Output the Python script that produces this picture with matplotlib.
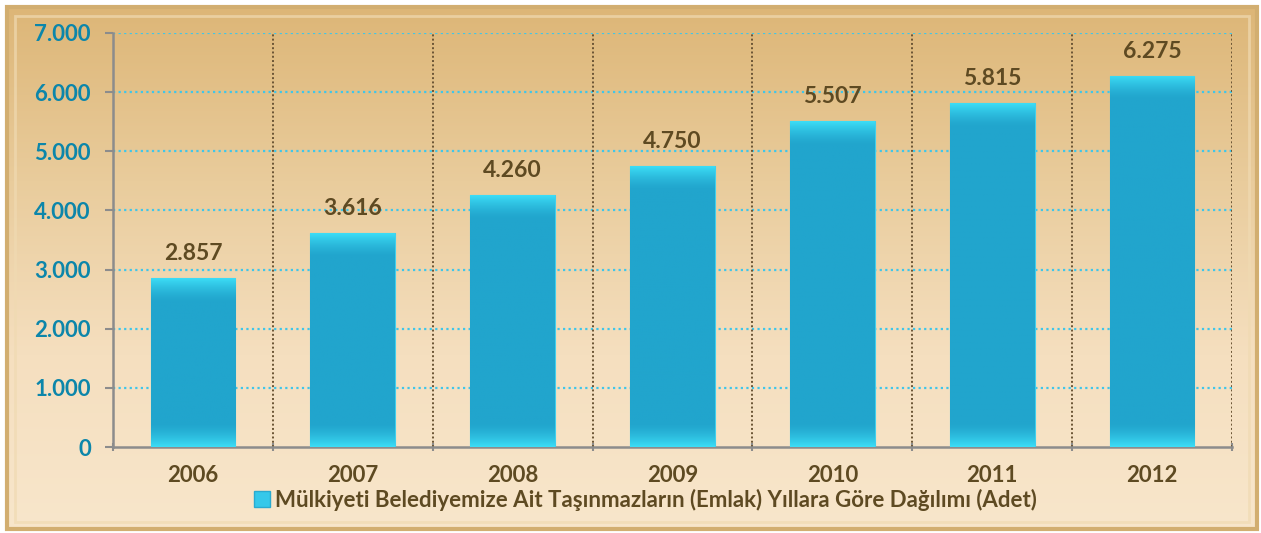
import numpy as np
import matplotlib
matplotlib.use("Agg")
import matplotlib.pyplot as plt
from matplotlib.patches import Rectangle
from matplotlib.lines import Line2D
from matplotlib.colors import LinearSegmentedColormap

years = ["2006", "2007", "2008", "2009", "2010", "2011", "2012"]
values = [2857, 3616, 4260, 4750, 5507, 5815, 6275]
value_labels = ["2.857", "3.616", "4.260", "4.750", "5.507", "5.815", "6.275"]
yticks = [0, 1000, 2000, 3000, 4000, 5000, 6000, 7000]
ytick_labels = ["0", "1.000", "2.000", "3.000", "4.000", "5.000", "6.000", "7.000"]
legend_label = "Mülkiyeti Belediyemize Ait Taşınmazların (Emlak) Yıllara Göre Dağılımı (Adet)"

FONT = ["Lato", "DejaVu Sans"]
BROWN = "#5E4A22"
TEAL = "#0C86AA"

fig = plt.figure(figsize=(12.61, 5.33), dpi=100)
fig.patch.set_facecolor("white")

# background panel with gradient
bg = fig.add_axes([0, 0, 1, 1], zorder=0)
bg.set_xlim(0, 1); bg.set_ylim(0, 1); bg.axis("off")
grad = np.linspace(0, 1, 256)[:, None]
cmap_bg = LinearSegmentedColormap.from_list("bg", ["#F8E6CB", "#F5DFBF", "#E9CC9C", "#DDB677"])
x0, y0, x1, y1 = 7/1261, 4/533, 1257/1261, 526/533
bg.imshow(grad, extent=[x0, x1, y0, y1], cmap=cmap_bg, aspect="auto", origin="lower")
bg.add_patch(Rectangle((x0, y0), x1 - x0, y1 - y0, fill=False, ec="#D2AE70", lw=3))
bg.add_patch(Rectangle((x0 + 0.006, y0 + 0.014), x1 - x0 - 0.012, y1 - y0 - 0.03, fill=False, ec="#F0DAB2", lw=2, alpha=0.7))

ax = fig.add_axes([113/1261, 1 - 447/533, (1232 - 113)/1261, (447 - 33)/533], zorder=1)
ax.patch.set_alpha(0)
x = np.arange(len(years))
bars = ax.bar(x, values, width=0.53, color="#22A8D0", edgecolor="#3FD0EE", linewidth=0.8, zorder=3)
ax.set_xlim(-0.5, len(years) - 0.5)
ax.set_ylim(0, 7000)

bar_cmap = LinearSegmentedColormap.from_list("bar", ["#21A5CD", "#3CDDF6"])
fig.canvas.draw()
for b in bars:
    bx, by = b.get_x(), b.get_y()
    w, h = b.get_width(), b.get_height()
    hpx = b.get_window_extent().height
    t = np.linspace(0, hpx, 400)
    bevel = 24.0
    d = np.minimum(t, hpx - t)
    arr = np.clip(1 - d / bevel, 0, 1) ** 1.5
    im = ax.imshow(arr[:, None], extent=[bx, bx + w, by, by + h], cmap=bar_cmap, vmin=0, vmax=1,
                   aspect="auto", origin="lower", zorder=3, interpolation="bilinear")
    im.set_clip_path(b)

ax.set_yticks(yticks)
ax.set_yticklabels(ytick_labels, fontfamily=FONT, fontweight="bold", fontsize=16, color=TEAL)
ax.set_xticks(x)
ax.set_xticklabels(years, fontfamily=FONT, fontweight="bold", fontsize=16, color=BROWN)
ax.tick_params(axis="x", length=0, pad=13)
ax.set_xticks(np.arange(-0.5, len(years), 1), minor=True)
ax.tick_params(axis="x", which="minor", length=6, color="#8C8C8C", width=1.5, direction="inout")
ax.tick_params(axis="y", length=6, color="#8C8C8C", width=1.5, pad=10)

for s in ["top", "right"]:
    ax.spines[s].set_visible(False)
for s in ["left", "bottom"]:
    ax.spines[s].set_color("#8C8C8C")
    ax.spines[s].set_linewidth(1.8)

for yv in yticks[1:]:
    ax.axhline(yv, color="#3FC6EA", lw=1.6, ls=(0, (1, 1.5)), zorder=1)
for xv in np.arange(0.5, len(years), 1):
    ax.axvline(xv, color="#6B5535", lw=1.4, ls=(0, (1, 1.2)), zorder=2)

for xi, v, lab in zip(x, values, value_labels):
    ax.annotate(lab, (xi, v), xytext=(0, 10), textcoords="offset points", ha="center", va="bottom",
                fontfamily=FONT, fontweight="bold", fontsize=16.5, color=BROWN)

handle = Line2D([], [], marker="s", ls="none", markersize=12, markerfacecolor="#35C8EA", markeredgecolor="#2AAAD0")
leg = fig.legend([handle], [legend_label], loc="center", bbox_to_anchor=(645/1261, 1 - 500/533),
                 frameon=False, handlelength=0.8, handletextpad=0.2, borderpad=0.1,
                 prop={"family": FONT, "weight": "bold", "size": 16})
for t in leg.get_texts():
    t.set_color(BROWN)

fig.savefig("out.png", dpi=100)
